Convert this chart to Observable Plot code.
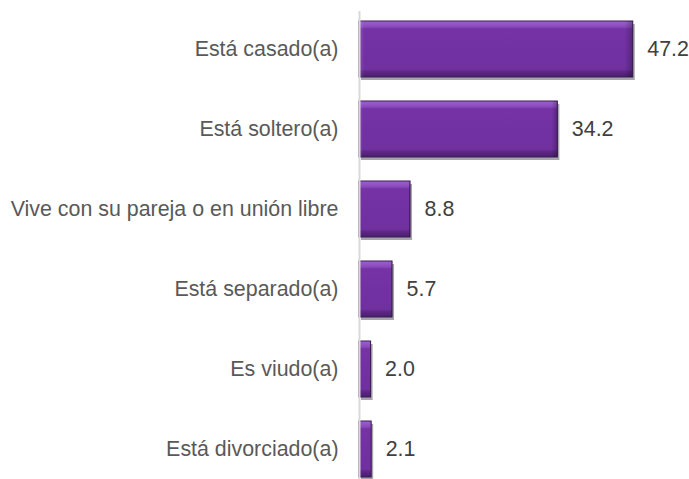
<!DOCTYPE html>
<html><head><meta charset="utf-8">
<script src="https://cdn.jsdelivr.net/npm/d3@7"></script>
<script src="https://cdn.jsdelivr.net/npm/@observablehq/plot@0.6"></script>
<style>body{margin:0;background:#fff}</style>
</head><body><div id="chart"></div>
<script>
const categories = ["Está casado(a)","Está soltero(a)","Vive con su pareja o en unión libre","Está separado(a)","Es viudo(a)","Está divorciado(a)"];
const values = [47.2, 34.2, 8.8, 5.7, 2.0, 2.1];
const data = categories.map((c,i)=>({cat:c, v:values[i]}));

const plot = Plot.plot({
  width: 689, height: 479,
  marginTop: 11, marginBottom: 0, marginLeft: 359, marginRight: 0,
  x: {domain:[0,56], range:[359, 359+56*5.8], axis:null},
  y: {domain: categories, range:[9,489], paddingInner:0.3, paddingOuter:0.15, axis:null},
  style:{fontFamily:"Arial, 'Liberation Sans', sans-serif", overflow:"visible"},
  marks: [
    Plot.barX(data, {y:"cat", x:"v", fill:"#000", fillOpacity:0.35, dx:2, dy:3, style:"filter:url(#blur)"}),
    Plot.barX(data, {y:"cat", x:"v", fill:"url(#bevelV)", stroke:"#3b1a58", strokeWidth:1}),
    Plot.barX(data, {y:"cat", x:"v", fill:"url(#bevelH)"}),
    Plot.ruleX([0], {stroke:"#d9d9d9", strokeWidth:2}),
    Plot.text(data, {y:"cat", x:0, text:"cat", dx:-21, textAnchor:"end", fontSize:21.4, fill:"#595959"}),
    Plot.text(data, {y:"cat", x:"v", text:d=>d.v.toFixed(1), dx:14, textAnchor:"start", fontSize:21.4, fill:"#404040"})
  ]
});
const svg = d3.select(plot);
const defs = svg.insert("defs",":first-child");
const gV = defs.append("linearGradient").attr("id","bevelV").attr("x1",0).attr("y1",0).attr("x2",0).attr("y2",1);
[[0,"#9c62c9"],[0.1,"#8a4bbd"],[0.14,"#7533a6"],[0.86,"#7030a0"],[0.9,"#5e2888"],[1,"#4a1e6c"]].forEach(([o,c])=>gV.append("stop").attr("offset",o).attr("stop-color",c));
const gH = defs.append("linearGradient").attr("id","bevelH").attr("x1",0).attr("y1",0).attr("x2",1).attr("y2",0).attr("gradientUnits","objectBoundingBox");
[[0,"#ffffff",0.15],[0.02,"#ffffff",0],[0.97,"#000000",0],[1,"#000000",0.25]].forEach(([o,c,a])=>gH.append("stop").attr("offset",o).attr("stop-color",c).attr("stop-opacity",a));
defs.append("filter").attr("id","blur").attr("x","-20%").attr("y","-20%").attr("width","140%").attr("height","140%")
  .append("feGaussianBlur").attr("stdDeviation",1.5);
document.getElementById("chart").appendChild(plot);
</script></body></html>
